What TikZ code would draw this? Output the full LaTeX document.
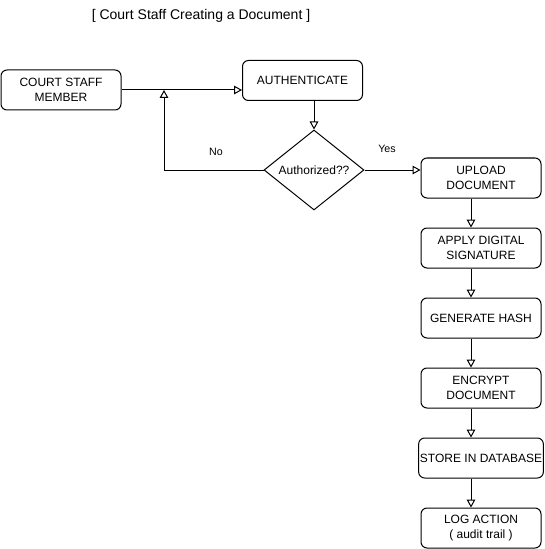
\documentclass[tikz,border=0pt]{standalone}
\usepackage{fontspec}
\setmainfont{Liberation Sans}
\usetikzlibrary{arrows.meta,shapes.geometric}
\begin{document}
\begin{tikzpicture}[x=0.75pt,y=-0.75pt,
  box/.style={draw,rounded corners=4.5pt,minimum width=90pt,minimum height=30pt,align=center,inner sep=1pt,font=\fontsize{9}{11}\selectfont,line width=0.75pt},
  dec/.style={draw,diamond,minimum width=75pt,minimum height=60pt,inner sep=0pt,font=\fontsize{9}{11}\selectfont,line width=0.75pt},
  arr/.style={line width=0.75pt,-{Triangle[open,length=6pt,width=6.5pt]}},
  lbl/.style={font=\fontsize{8}{10}\selectfont,inner sep=0pt}]
\useasboundingbox (0,0) rectangle (544,549);
\node[font=\fontsize{10.5}{12}\selectfont] (title) at (201,16) {[ Court Staff Creating a Document ]};
\node[box] (csm) at (61,90) {COURT STAFF\\MEMBER};
\node[box] (auth) at (302.5,80.5) {AUTHENTICATE};
\node[dec] (dia) at (314,170) {Authorized??};
\node[box] (up) at (481,178) {UPLOAD\\DOCUMENT};
\node[box] (sig) at (481,248) {APPLY DIGITAL\\SIGNATURE};
\node[box] (hash) at (481,318) {GENERATE HASH};
\node[box] (enc) at (481,388) {ENCRYPT\\DOCUMENT};
\node[box] (store) at (481,458) {STORE IN DATABASE};
\node[box] (log) at (481,528) {LOG ACTION\\( audit trail )};
\coordinate (col) at (471,0);
\coordinate (nojoin) at (164,90);
\node[lbl] (no) at (216,152) {No};
\node[lbl] (yes) at (387,149) {Yes};
\draw[arr] (csm.east) -- (csm.east -| auth.west);
\draw[arr] (auth.south -| dia.north) -- (dia.north);
\draw[arr] (dia.west) -| (nojoin);
\draw[arr] (dia.east) -- (dia.east -| up.west);
\draw[arr] (up.south -| col) -- (sig.north -| col);
\draw[arr] (sig.south -| col) -- (hash.north -| col);
\draw[arr] (hash.south -| col) -- (enc.north -| col);
\draw[arr] (enc.south -| col) -- (store.north -| col);
\draw[arr] (store.south -| col) -- (log.north -| col);
\end{tikzpicture}
\end{document}
